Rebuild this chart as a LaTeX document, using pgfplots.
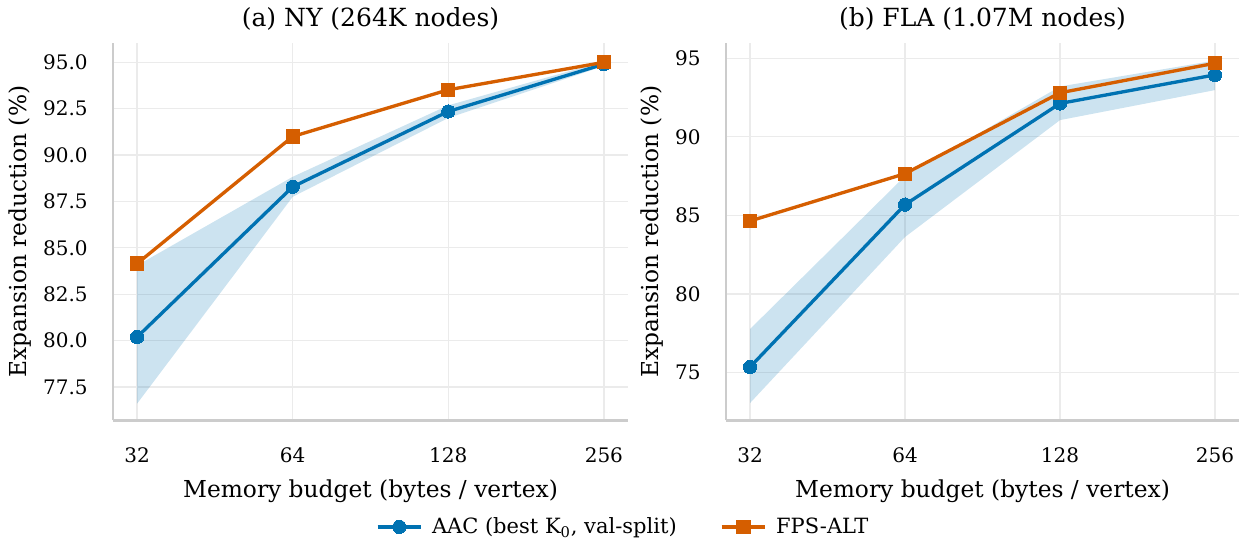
\documentclass[border=0pt]{standalone}
\usepackage{fontspec}
\setmainfont{DejaVu Serif}
\usepackage{pgfplots}
\pgfplotsset{compat=1.18}
\definecolor{cblue}{HTML}{0072B2}
\definecolor{corange}{HTML}{D55E00}
\definecolor{spine}{HTML}{CCCCCC}
\definecolor{gridc}{HTML}{EBEBEB}

\pgfplotsset{
 every axis title/.style={at={(0.5,1)}, anchor=base, yshift=9.4pt, font=\fontsize{15}{18}\selectfont},
 every axis x label/.style={at={(0.5,0)}, anchor=base, yshift=-46.4pt},
 panel/.style={
  scale only axis, height=226.6pt,
  xmin=4.845, xmax=8.155,
  xtick={5,6,7,8}, xticklabels={32,64,128,256},
  axis x line*=bottom, axis y line*=left,
  axis line style={draw=spine, line width=1.6pt, -},
  major tick length=0pt,
  grid=major, major grid style={draw=gridc, line width=0.8pt},
  tick label style={font=\fontsize{12}{14}\selectfont},
  /pgf/number format/assume math mode=true,
  xticklabel style={anchor=north, inner sep=0pt, yshift=-16pt},
  yticklabel style={anchor=east, inner sep=0pt, xshift=-15pt},
  label style={font=\fontsize{14}{17}\selectfont},
  xlabel={Memory budget (bytes / vertex)},
  ylabel={Expansion reduction (\%)},
  legend image code/.code={\draw[mark repeat=2,mark phase=2,##1] plot coordinates {(0pt,0pt) (13pt,0pt) (26pt,0pt)};},
 },
 aac/.style={cblue, line width=2pt, mark=*, mark size=4pt, mark options={solid, fill=cblue, draw=cblue, line width=0pt}},
 fps/.style={corange, line width=2pt, mark=square*, mark size=4pt, mark options={solid, fill=corange, draw=corange, line width=0pt}},
 band/.style={draw=none, fill=cblue, fill opacity=0.2, forget plot},
}

\begin{document}
\begin{tikzpicture}
\useasboundingbox (0,0) rectangle (743.4pt,323.4pt);

\begin{axis}[panel, at={(67.8pt,71.2pt)}, anchor=south west, width=309pt,
  ymin=75.7, ymax=96.06,
  ytick={77.5,80,82.5,85,87.5,90,92.5,95},
  yticklabel style={/pgf/number format/.cd, fixed, fixed zerofill, precision=1},
  ylabel style={at={(axis description cs:-0.1806,0.5)}, anchor=center},
  title={(a) NY (264K nodes)},
  legend columns=2,
  legend style={at={(axis description cs:0.992,-0.282)}, anchor=center, draw=none, fill=none,
    font=\fontsize{12.6}{14}\selectfont,
    /tikz/every odd column/.append style={column sep=3.6pt},
    /tikz/every even column/.append style={column sep=24pt}},
]
\addplot[band] coordinates {(5,84.05) (6,88.83) (7,92.68) (8,95.05) (8,94.8) (7,92.0) (6,87.75) (5,76.6)};
\addplot[aac] coordinates {(5,80.19) (6,88.29) (7,92.35) (8,94.9)};
\addlegendentry{AAC (best K\textsubscript{0}, val-split)}
\addplot[fps] coordinates {(5,84.15) (6,91.0) (7,93.52) (8,95.0)};
\addlegendentry{FPS-ALT}
\end{axis}

\begin{axis}[panel, at={(435.6pt,71.2pt)}, anchor=south west, width=307.8pt,
  ymin=71.95, ymax=95.99,
  ytick={75,80,85,90,95},
  ylabel style={at={(axis description cs:-0.1443,0.5)}, anchor=center},
  title={(b) FLA (1.07M nodes)},
]
\addplot[band] coordinates {(5,77.76) (6,87.5) (7,93.2) (8,94.85) (8,92.97) (7,91.06) (6,83.62) (5,73.05)};
\addplot[aac] coordinates {(5,75.34) (6,85.68) (7,92.12) (8,93.94)};
\addplot[fps] coordinates {(5,84.64) (6,87.65) (7,92.8) (8,94.68)};
\end{axis}
\end{tikzpicture}
\end{document}
